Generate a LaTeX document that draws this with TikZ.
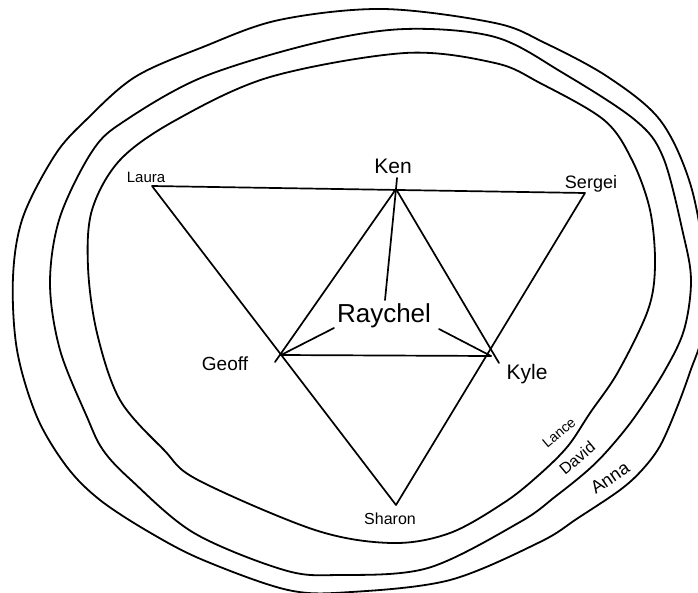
\documentclass[tikz,border=0pt]{standalone}
\usepackage{fontspec}
\setmainfont{Liberation Sans}
\begin{document}
\begin{tikzpicture}[x=1pt,y=-1pt,
  ring/.style={line width=1.8pt, line join=round},
  edge/.style={line width=1.7pt, line cap=round, line join=round},
  lab/.style={inner sep=0pt, font=\fontsize{#1}{#1}\selectfont},
  lab/.default=18]
\useasboundingbox (0,0) rectangle (698,592);
% rings
\draw[ring] plot[smooth cycle, tension=0.55] coordinates {
 (383,9) (495,23) (545,43) (608,77) (660,120) (690,183) (704,260) (703,330)
 (690,372) (676,410) (660,446) (642,470) (620,490) (578,518) (540,542)
 (450,580) (351,592)
 (288,590) (203,560) (149,532) (100,500) (67,467) (37,417) (17,350) (13,277)
 (23,217) (55,155) (86,120) (135,77) (203,47) (279,20)};
\draw[ring] plot[smooth cycle, tension=0.55] coordinates {
 (405,29) (495,37) (563,73) (635,120) (663,157) (683,233) (691,280) (684,330)
 (664,372) (634,418) (608,450) (587,471) (556,496) (520,522) (428,568)
 (338,575) (284,570)
 (194,533) (131,480) (103,450) (87,417) (60,350) (50,283) (60,217) (93,150)
 (126,120) (203,77) (315,43)};
\draw[ring] plot[smooth cycle, tension=0.55] coordinates {
 (405,53) (495,63) (540,83) (604,120) (632,160) (650,210) (655,265) (648,310)
 (618,372) (590,413) (568,446) (540,474) (505,502) (450,533) (392,543)
 (315,530) (198,480)
 (164,450) (120,400) (97,333) (88,267) (92,210) (120,160) (176,120) (270,77)};
% vertices
\coordinate (L) at (152,186);
\coordinate (S) at (585,193);
\coordinate (Sh) at (396,505);
\coordinate (K) at (396,189);
\coordinate (Kt) at (397,178);
\coordinate (G) at (281,355);
\coordinate (Gx) at (275,362);
\coordinate (Ky) at (491,356);
\coordinate (Kyx) at (499,363);
\coordinate (Rk) at (385,300);
\coordinate (Rg) at (334,328);
\coordinate (Rr) at (439,329);
% big triangle
\draw[edge] (L) -- (S) -- (Sh) -- cycle;
% inner triangle
\draw[edge] (Kt) -- (K);
\draw[edge] (K) -- (Gx);
\draw[edge] (K) -- (Kyx);
\draw[edge] (G) -- (Ky);
% Raychel spokes
\draw[edge] (K) -- (Rk);
\draw[edge] (G) -- (Rg);
\draw[edge] (Ky) -- (Rr);
% labels
\node[lab=15] (laura) at (146,177) {Laura};
\node[lab=21] (ken) at (393,166) {Ken};
\node[lab=18] (sergei) at (591,184) {Sergei};
\node[lab=26] (raychel) at (384,316) {Raychel};
\node[lab=19] (geoff) at (225,364) {Geoff};
\node[lab=21] (kyle) at (527,374) {Kyle};
\node[lab=16] (sharon) at (390,519) {Sharon};
\node[lab=14, rotate=40] (lance) at (559,433) {Lance};
\node[lab=16, rotate=40] (david) at (577,458) {David};
\node[lab=18, rotate=34] (anna) at (610,478) {Anna};
\end{tikzpicture}
\end{document}
